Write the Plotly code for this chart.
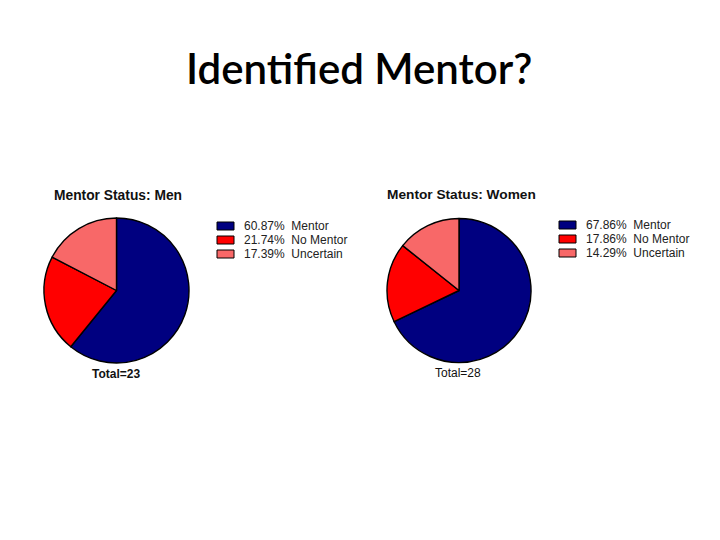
import plotly.graph_objects as go

categories = ["Mentor", "No Mentor", "Uncertain"]
men_counts = [14, 5, 4]
women_counts = [19, 5, 4]
men_pct = ["60.87%", "21.74%", "17.39%"]
women_pct = ["67.86%", "17.86%", "14.29%"]
colors = ["#000080", "#FF0000", "#F86868"]

W, H = 720, 540
OFF = 8  # page body margin

def px_x(v):
    return (v - OFF) / W

def px_y(v):
    return 1 - (v - OFF) / H

fig = go.Figure()
fig.add_trace(go.Pie(
    labels=categories, values=men_counts, sort=False, direction="clockwise",
    rotation=0, textinfo="none", hoverinfo="label+value+percent",
    marker=dict(colors=colors, line=dict(color="black", width=1.4)),
    domain=dict(x=[px_x(44), px_x(189)], y=[px_y(363), px_y(218)]),
    showlegend=False,
))
fig.add_trace(go.Pie(
    labels=categories, values=women_counts, sort=False, direction="clockwise",
    rotation=0, textinfo="none", hoverinfo="label+value+percent",
    marker=dict(colors=colors, line=dict(color="black", width=1.4)),
    domain=dict(x=[px_x(387), px_x(531)], y=[px_y(363), px_y(218)]),
    showlegend=False,
))

font_a = "Liberation Sans, Arial, sans-serif"
shapes = []
annotations = []

def add_legend(x_sw, y_top, pcts):
    for i, (p, c, col) in enumerate(zip(pcts, categories, colors)):
        y0 = y_top + i * 14
        shapes.append(dict(type="rect", xref="paper", yref="paper",
                           x0=px_x(x_sw), x1=px_x(x_sw + 17),
                           y0=px_y(y0 + 8), y1=px_y(y0),
                           fillcolor=col, line=dict(color="black", width=1)))
        annotations.append(dict(text=f"{p}\u00a0\u00a0{c}", x=px_x(x_sw + 25), y=px_y(y0 + 4),
                                xref="paper", yref="paper", showarrow=False,
                                xanchor="left", yanchor="middle",
                                font=dict(family=font_a, size=12, color="#222")))

add_legend(217, 222, men_pct)
add_legend(559, 221, women_pct)

annotations += [
    dict(text="Identified Mentor?", x=px_x(359), y=px_y(68), xref="paper", yref="paper",
         showarrow=False, xanchor="center", yanchor="middle",
         font=dict(family="Lato, Carlito, sans-serif", size=42, color="black", weight=600)),
    dict(text="<b>Mentor Status: Men</b>", x=px_x(52), y=px_y(195), xref="paper", yref="paper",
         showarrow=False, xanchor="left", yanchor="middle",
         font=dict(family=font_a, size=13.8, color="#111")),
    dict(text="<b>Mentor Status: Women</b>", x=px_x(385), y=px_y(194), xref="paper", yref="paper",
         showarrow=False, xanchor="left", yanchor="middle",
         font=dict(family=font_a, size=13.7, color="#111")),
    dict(text="<b>Total=23</b>", x=px_x(116), y=px_y(374), xref="paper", yref="paper",
         showarrow=False, xanchor="center", yanchor="middle",
         font=dict(family=font_a, size=12, color="#111")),
    dict(text="Total=28", x=px_x(458), y=px_y(373), xref="paper", yref="paper",
         showarrow=False, xanchor="center", yanchor="middle",
         font=dict(family=font_a, size=12, color="#111")),
]

fig.update_layout(
    width=W, height=H,
    margin=dict(l=0, r=0, t=0, b=0),
    paper_bgcolor="white", plot_bgcolor="white",
    shapes=shapes,
    annotations=annotations,
)

fig.write_html("out.html")
